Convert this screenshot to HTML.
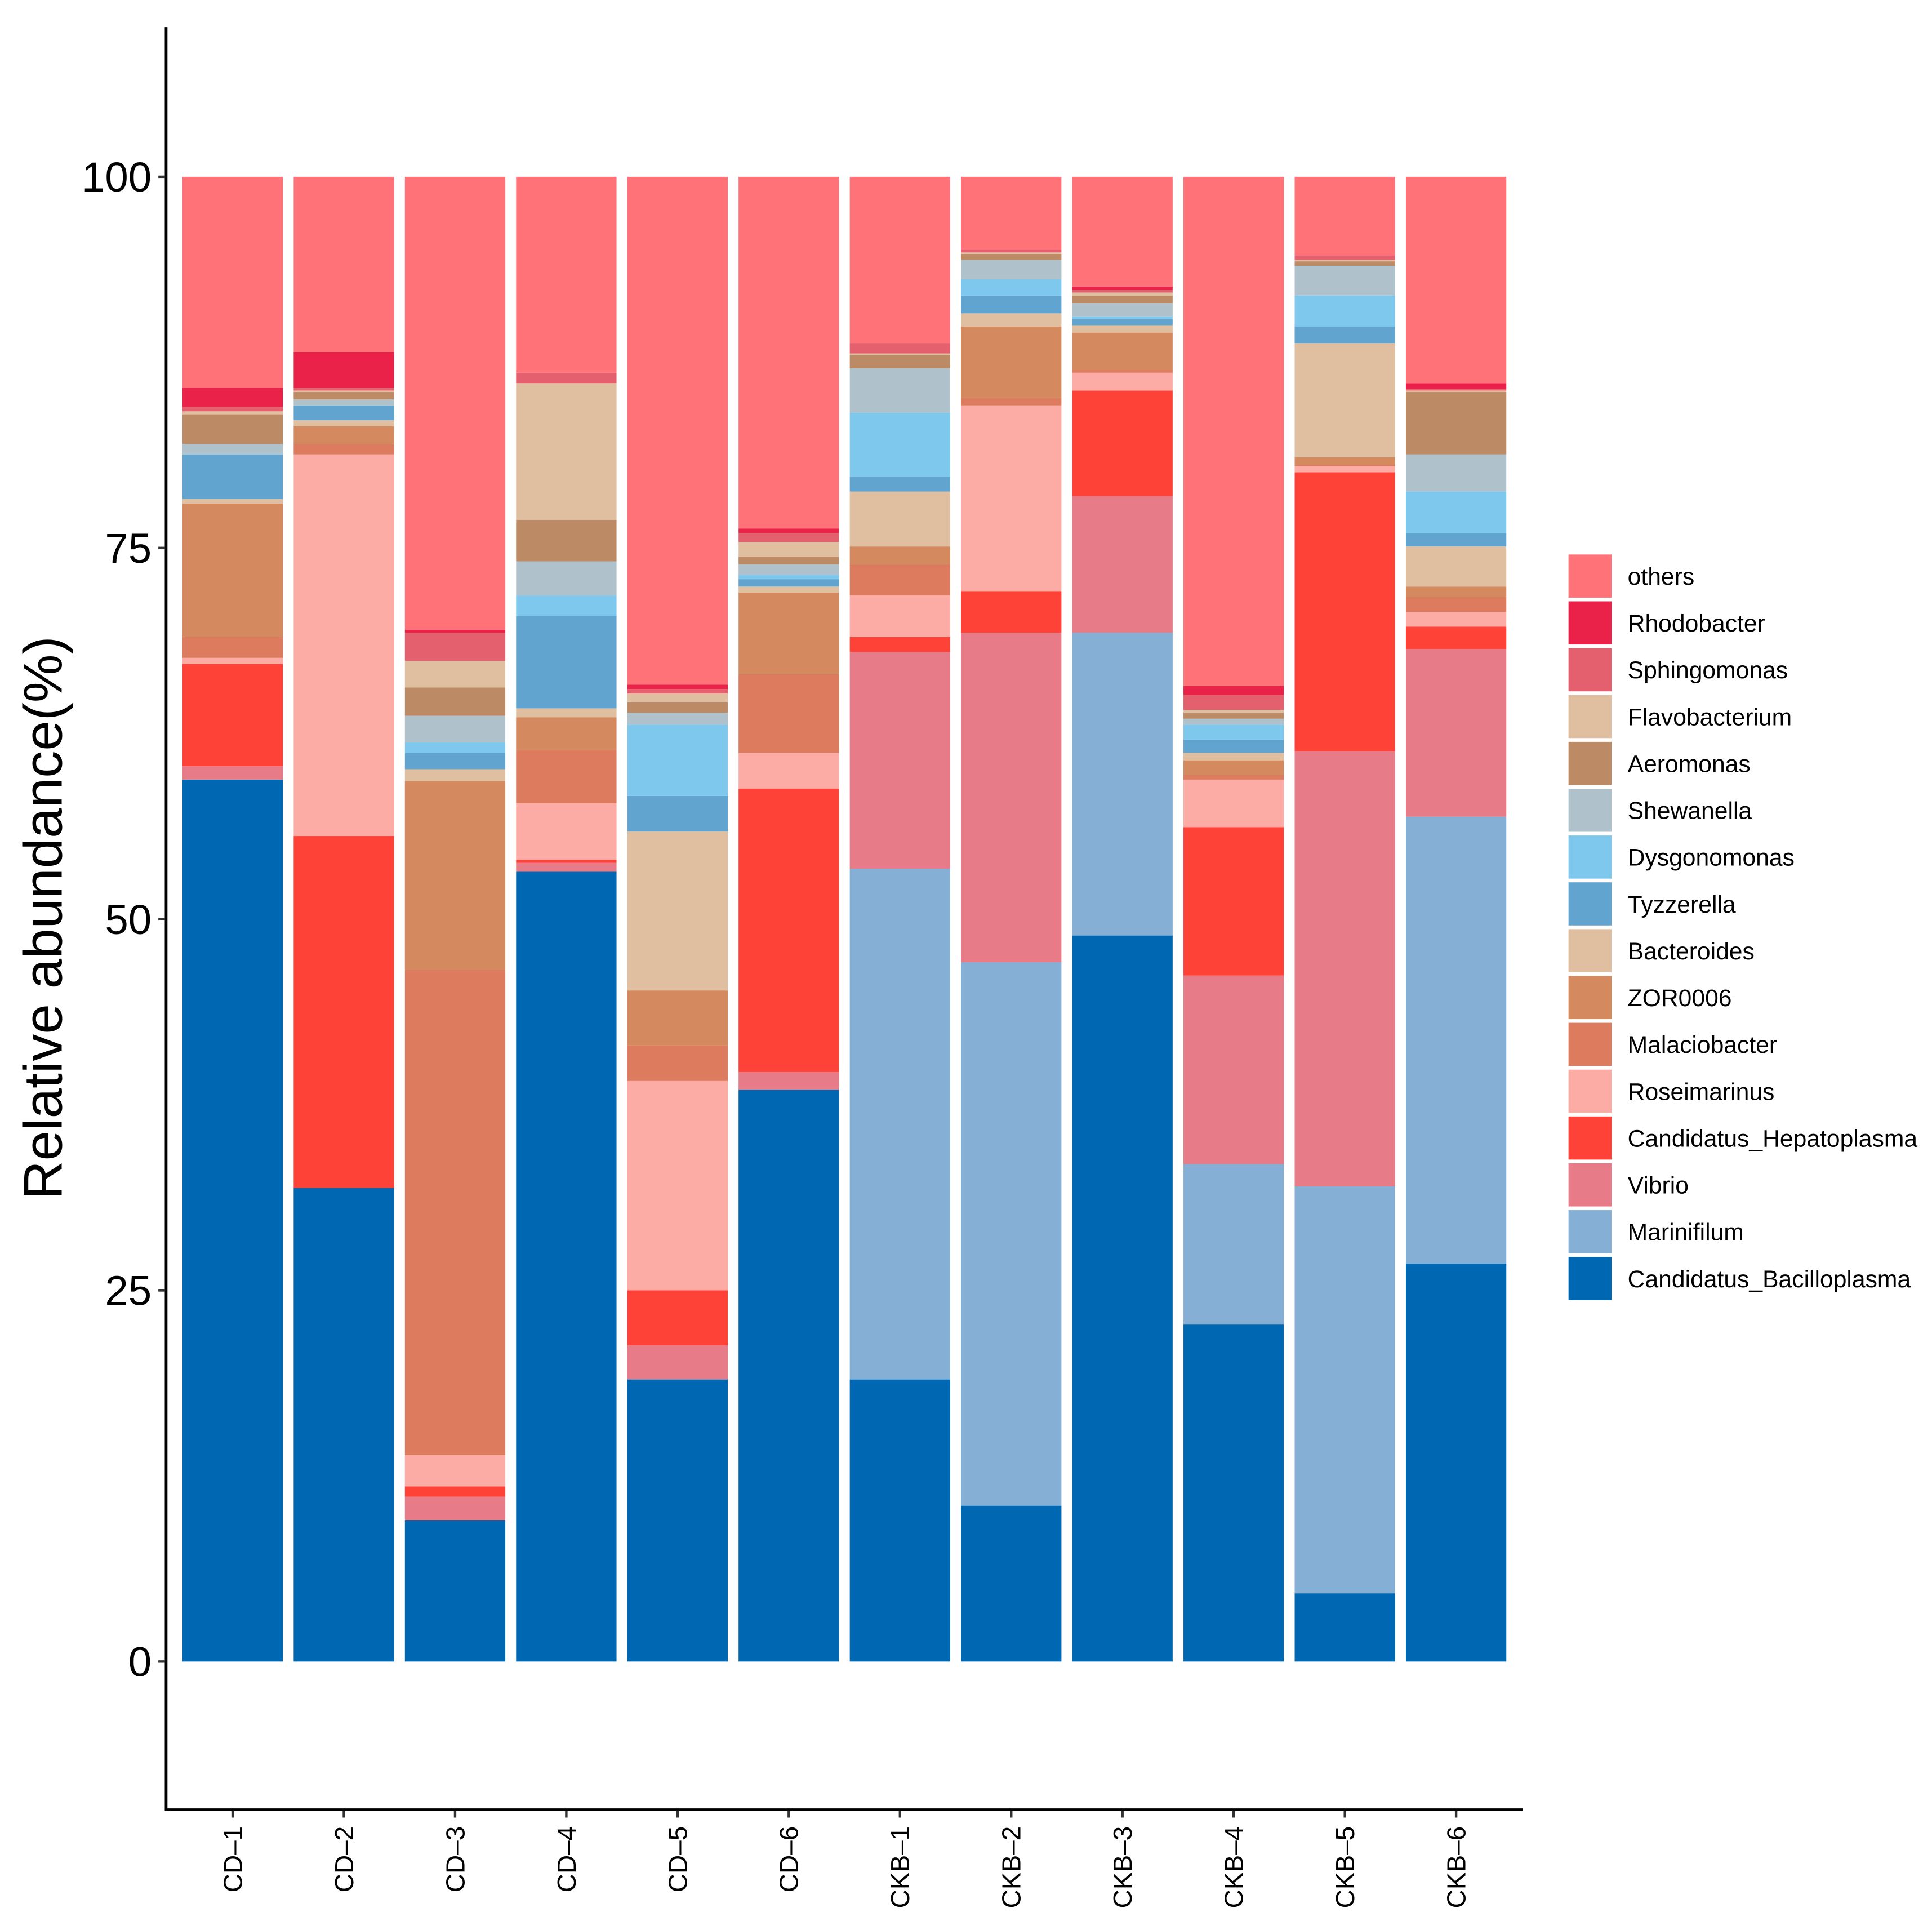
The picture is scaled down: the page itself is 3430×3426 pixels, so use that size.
<!DOCTYPE html>
<html><head><meta charset="utf-8"><style>
html,body{margin:0;padding:0;background:#fff;}
svg{display:block;font-family:"Liberation Sans",Arial,sans-serif;}
</style></head><body>
<svg id="chart" width="3430" height="3426" viewBox="0 0 1568 1566.2" xmlns="http://www.w3.org/2000/svg">
<rect width="1568" height="1566.2" fill="#fff"/>
<g id="bars"></g>
<g id="axes"></g>
<g id="legend"></g>
<text transform="translate(50,745) rotate(-90)" text-anchor="middle" font-size="44" fill="#000">Relative abundance(%)</text>
</svg>
<script>
const samples = ["CD-1","CD-2","CD-3","CD-4","CD-5","CD-6","CKB-1","CKB-2","CKB-3","CKB-4","CKB-5","CKB-6"];
const taxa = ["Candidatus_Bacilloplasma","Marinifilum","Vibrio","Candidatus_Hepatoplasma","Roseimarinus","Malaciobacter","ZOR0006","Bacteroides","Tyzzerella","Dysgonomonas","Shewanella","Aeromonas","Flavobacterium","Sphingomonas","Rhodobacter","others"];
const colors = ["#0068B2","#85AFD5","#E77B87","#FF4238","#FCABA5","#DC7B5E","#D48A5E","#E0BEA0","#61A4D0","#7EC8EE","#AFC2CB","#BC8A64","#E0BEA0","#E5606E","#EA2149","#FF7378"];
const bacilloplasma = [59.4,31.9,9.5,53.2,19.0,38.5,19.0,10.5,48.9,22.7,4.6,26.8];
const marinifilum   = [0,0,0,0,0,0,34.4,36.6,20.4,10.8,27.4,30.1];
const vibrio        = [0.9,0,1.6,0.6,2.3,1.2,14.6,22.2,9.2,12.7,29.3,11.3];
const hepatoplasma  = [6.9,23.7,0.7,0.2,3.7,19.1,1.0,2.8,7.1,10.0,18.8,1.5];
const roseimarinus  = [0.4,25.7,2.1,3.8,14.1,2.4,2.8,12.5,1.2,3.2,0.4,1.0];
const malaciobacter = [1.4,0.7,32.7,3.6,2.4,5.3,2.1,0.5,0.2,0.3,0.1,1.0];
const zor0006       = [9.0,1.2,12.7,2.2,3.7,5.5,1.2,4.8,2.5,1.0,0.5,0.7];
const bacteroides   = [0.3,0.4,0.8,0.6,10.7,0.4,3.7,0.9,0.5,0.5,7.7,2.7];
const tyzzerella    = [3.0,1.0,1.1,6.2,2.4,0.5,1.0,1.2,0.4,0.9,1.1,0.9];
const dysgonomonas  = [0,0,0.7,1.4,4.8,0.3,4.3,1.1,0.2,1.0,2.1,2.8];
const shewanella    = [0.7,0.4,1.8,2.3,0.8,0.7,3.0,1.3,0.9,0.4,2.0,2.5];
const aeromonas     = [2.0,0.5,1.9,2.8,0.7,0.5,0.9,0.4,0.5,0.4,0.3,4.2];
const flavobacterium= [0.2,0.1,1.8,9.2,0.6,1.0,0.1,0.1,0.2,0.2,0.1,0.1];
const sphingomonas  = [0.3,0.2,1.9,0.7,0.3,0.6,0.7,0.2,0.2,1.0,0.3,0.1];
const rhodobacter   = [1.3,2.4,0.2,0,0.3,0.3,0,0,0.2,0.6,0,0.4];
const others        = [14.2,11.8,30.5,13.2,34.2,23.7,11.2,4.9,7.4,34.3,5.3,13.9];
const series = [bacilloplasma,marinifilum,vibrio,hepatoplasma,roseimarinus,malaciobacter,zor0006,bacteroides,tyzzerella,dysgonomonas,shewanella,aeromonas,flavobacterium,sphingomonas,rhodobacter,others];
const yTicks = [0,25,50,75,100];

const NS="http://www.w3.org/2000/svg";
const X0=188.8, DX=90.27, BW=81.5;
const Y0=1348.3, Y100=143.5;
const xPos = i => X0 + i*DX;
const yPos = v => Y0 - (Y0-Y100)*v/100;
function mk(tag, attrs, parent){const e=document.createElementNS(NS,tag);for(const k in attrs)e.setAttribute(k,attrs[k]);parent.appendChild(e);return e;}

const gB=document.getElementById('bars');
samples.forEach((s,i)=>{
  let cum=0;
  series.forEach((arr,k)=>{
    const v=arr[i]; if(!v) return;
    const y1=yPos(cum+v), y0=yPos(cum);
    const r=mk('rect',{x:xPos(i)-BW/2,y:y1,width:BW,height:y0-y1,fill:colors[k]},gB);
    
    
    cum+=v;
  });
});

const gA=document.getElementById('axes');
const yl=mk('line',{x1:134.8,y1:22,x2:134.8,y2:1469.5,stroke:'#000','stroke-width':2.2},gA);


const xl=mk('line',{x1:133.7,y1:1468.6,x2:1236,y2:1468.6,stroke:'#000','stroke-width':2.2},gA);


yTicks.forEach(t=>{
  const y=yPos(t);
  const tk=mk('line',{x1:128.5,y1:y,x2:134,y2:y,stroke:'#333','stroke-width':2},gA);
  
  
  const tx=mk('text',{x:123,y:y+12,'text-anchor':'end','font-size':34,fill:'#000'},gA);
  tx.textContent=t;
  
  
});
samples.forEach((s,i)=>{
  const x=xPos(i);
  const tk=mk('line',{x1:x,y1:1469.5,x2:x,y2:1475,stroke:'#333','stroke-width':2},gA);
  
  
  const tx=mk('text',{transform:`translate(${x+7.5},1482) rotate(-90)`,'text-anchor':'end','font-size':21,fill:'#000'},gA);
  tx.textContent=s.replace('-','\u2013');
  
  
});

const gL=document.getElementById('legend');
for(let j=0;j<taxa.length;j++){
  const k=taxa.length-1-j;
  const y=450+j*38;
  const r=mk('rect',{x:1273,y:y,width:35,height:35,fill:colors[k]},gL);
  
  
  const t=mk('text',{x:1321,y:y+24.5,'font-size':19.5,fill:'#000'},gL);
  t.textContent=taxa[k];
  
  
}
</script>
</body></html>
